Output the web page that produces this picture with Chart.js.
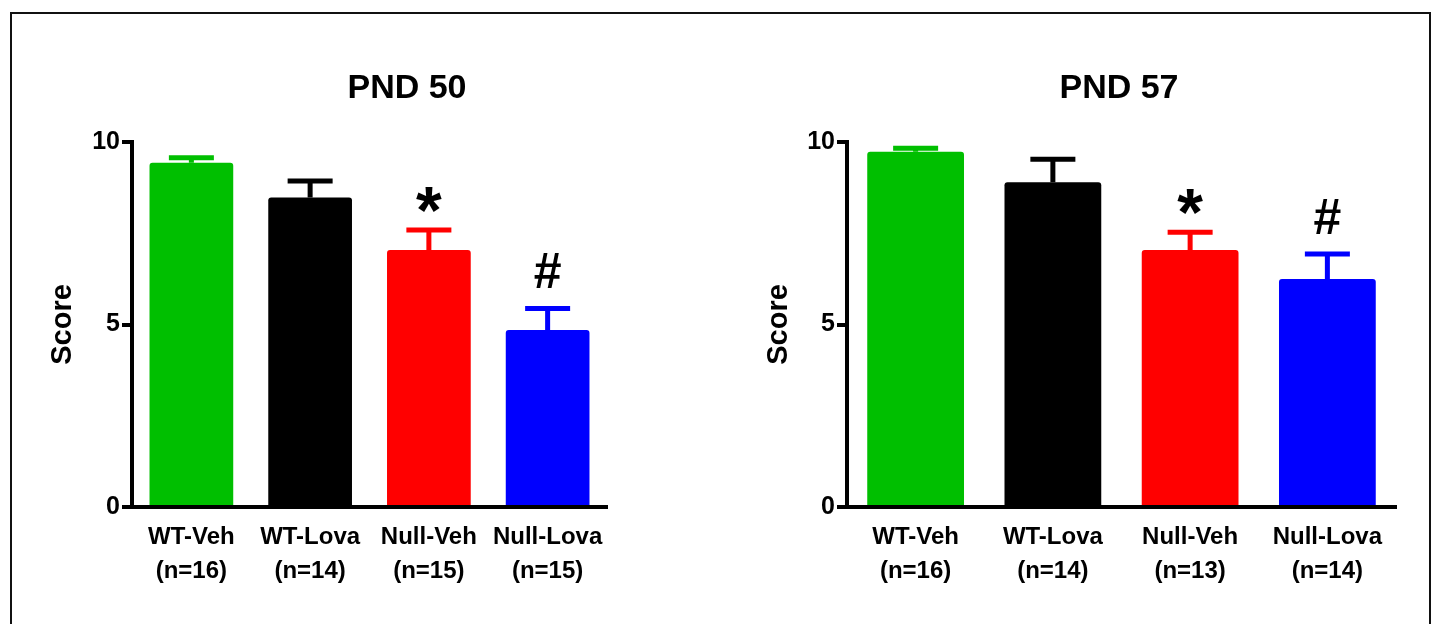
<!DOCTYPE html>
<html>
  <head>
    <title>PND 50 / PND 57</title>
    <script src="https://cdn.jsdelivr.net/npm/chart.js"></script>
    <style>
      html, body { margin: 0; padding: 0; background: #fff; overflow: hidden; }
      body { width: 1432px; height: 624px; position: relative; }
      #frame {
        position: absolute; left: 10px; top: 12px; width: 1421px; height: 700px;
        border: 2px solid #111; border-bottom: none; box-sizing: border-box;
      }
      canvas { position: absolute; top: 0; }
    </style>
  </head>
  <body>
    <div id="frame"></div>
    <canvas id="pnd50" width="716" height="624" style="left:0"></canvas>
    <canvas id="pnd57" width="716" height="624" style="left:716px"></canvas>

    <script>
      const groups = ["WT-Veh", "WT-Lova", "Null-Veh", "Null-Lova"];
      const colors = ["#00bf00", "#000000", "#ff0000", "#0000ff"];

      // PND 50
      const n50 = [16, 14, 15, 15];
      const mean50 = [9.43, 8.48, 7.04, 4.85];
      const sem50 = [0.14, 0.45, 0.55, 0.59];
      const marks50 = ["", "", "*", "#"];

      // PND 57
      const n57 = [16, 14, 13, 14];
      const mean57 = [9.73, 8.9, 7.04, 6.25];
      const sem57 = [0.1, 0.63, 0.49, 0.68];
      const marks57 = ["", "", "*", "#"];

      const yTicks = [0, 5, 10];
      const FONT = "'Liberation Sans', Arial, Helvetica, sans-serif";
      Chart.defaults.font.family = FONT;

      // SEM bars (upper half only) + significance marks
      const errorBars = {
        id: "errorBars",
        afterDatasetsDraw(chart, args, opts) {
          const ctx = chart.ctx;
          const y = chart.scales.y;
          const ds = chart.data.datasets[0];
          ctx.save();
          chart.getDatasetMeta(0).data.forEach((bar, i) => {
            const base = y.getPixelForValue(ds.data[i]);
            const top = y.getPixelForValue(ds.data[i] + opts.sem[i]);
            ctx.strokeStyle = ds.backgroundColor[i];
            ctx.lineWidth = 5;
            ctx.beginPath();
            ctx.moveTo(bar.x, base);
            ctx.lineTo(bar.x, top);
            ctx.moveTo(bar.x - 22.5, top);
            ctx.lineTo(bar.x + 22.5, top);
            ctx.stroke();
            const m = opts.marks[i];
            if (m) {
              ctx.fillStyle = "#000";
              ctx.textAlign = "center";
              ctx.textBaseline = "alphabetic";
              if (m === "*") {
                ctx.font = "bold 66px " + FONT;
                ctx.fillText(m, bar.x, top + 3);
              } else {
                ctx.font = "bold 50px " + FONT;
                ctx.fillText(m, bar.x, top - 20);
              }
            }
          });
          ctx.restore();
        },
      };

      const panelTitle = {
        id: "panelTitle",
        afterDraw(chart, args, opts) {
          const ctx = chart.ctx;
          ctx.save();
          ctx.font = "bold 34px " + FONT;
          ctx.fillStyle = "#000";
          ctx.textAlign = "center";
          ctx.textBaseline = "alphabetic";
          ctx.fillText(opts.text, opts.x, opts.y);
          ctx.restore();
        },
      };

      function makeChart(id, title, titleX, means, sems, ns, marks, yWidth, rightPad) {
        return new Chart(document.getElementById(id), {
          type: "bar",
          data: {
            labels: groups.map((g, i) => [g, "(n=" + ns[i] + ")"]),
            datasets: [
              {
                data: means,
                backgroundColor: colors,
                borderRadius: { topLeft: 3, topRight: 3 },
                borderSkipped: "start",
                barPercentage: 0.705,
                categoryPercentage: 1,
              },
            ],
          },
          options: {
            responsive: false,
            animation: false,
            layout: { padding: { left: 0, right: rightPad, top: 142, bottom: 0 } },
            plugins: {
              legend: { display: false },
              tooltip: { enabled: false },
              panelTitle: { text: title, x: titleX, y: 98 },
              errorBars: { sem: sems, marks: marks },
            },
            scales: {
              x: {
                grid: { display: false, drawTicks: false },
                border: { display: true, color: "#000", width: 4 },
                ticks: {
                  color: "#000",
                  font: { size: 24, weight: "bold", lineHeight: 1.4 },
                  padding: 14,
                  maxRotation: 0,
                  minRotation: 0,
                  autoSkip: false,
                },
                afterFit: (s) => { s.height = 117; },
              },
              y: {
                min: 0,
                max: 10,
                afterBuildTicks: (s) => { s.ticks = yTicks.map((v) => ({ value: v })); },
                grid: { drawOnChartArea: false, color: "#000", lineWidth: 4, tickLength: 10 },
                border: { color: "#000", width: 4 },
                ticks: { color: "#000", font: { size: 25, weight: "bold" }, padding: 2 },
                title: {
                  display: true,
                  text: "Score",
                  color: "#000",
                  font: { size: 29, weight: "bold" },
                  padding: { top: 46, bottom: 0 },
                },
                afterFit: (s) => { s.width = yWidth; },
              },
            },
          },
          plugins: [errorBars, panelTitle],
        });
      }

      makeChart("pnd50", "PND 50", 407, mean50, sem50, n50, marks50, 132, 109);
      makeChart("pnd57", "PND 57", 403, mean57, sem57, n57, marks57, 131, 36);
    </script>
  </body>
</html>
